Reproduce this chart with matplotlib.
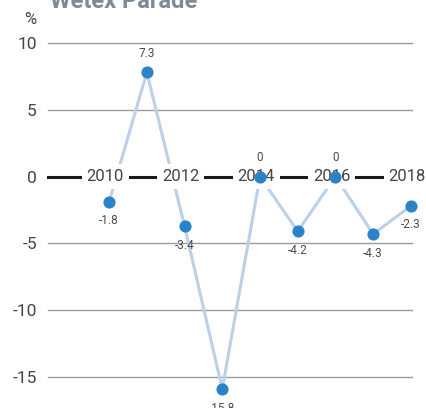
import numpy as np
import matplotlib.pyplot as plt

years = [2010, 2011, 2012, 2013, 2014, 2015, 2016, 2017, 2018]
values = [-1.9, 7.8, -3.7, -15.9, 0.0, -4.1, 0.0, -4.3, -2.2]
point_labels = ["-1.8", "7.3", "-3.4", "-15.8", "0", "-4.2", "0", "-4.3", "-2.3"]
label_above = [False, True, False, False, True, False, True, False, False]
year_ticks = [2010, 2012, 2014, 2016, 2018]
y_ticks = [10, 5, 0, -5, -10, -15]

plt.rcParams['font.family'] = ['Roboto', 'DejaVu Sans']

fig = plt.figure(figsize=(4.26, 4.08), dpi=100)
ax = fig.add_axes([48 / 426, 1 - 377 / 408, (412 - 48) / 426, (377 - 43) / 408])
ax.set_xlim(2008.38, 2018.03)
ax.set_ylim(-15, 10)

for t in y_ticks:
    if t == 0:
        ax.axhline(0, color='#1a1a1a', lw=2.2, zorder=1, clip_on=False)
    else:
        ax.axhline(t, color='#9a9a9a', lw=1, zorder=1, clip_on=False)

ax.plot(years, values, color='#bcd0ea', lw=2.2, zorder=2, clip_on=False)
ax.scatter(years, values, s=60, color='#2a83c8', zorder=3, clip_on=False)

for x, y, lab, up in zip(years, values, point_labels, label_above):
    if up:
        ax.annotate(lab, (x, y), xytext=(0, 9), textcoords='offset points',
                    ha='center', va='bottom', fontsize=8.5, color='#4a4a4a',
                    annotation_clip=False)
    else:
        ax.annotate(lab, (x, y), xytext=(0, -9), textcoords='offset points',
                    ha='center', va='top', fontsize=8.5, color='#4a4a4a',
                    annotation_clip=False)

for yr in year_ticks:
    ax.text(yr - 0.1, 0, str(yr), ha='center', va='center', fontsize=12, color='#444444',
            zorder=2.5, bbox=dict(facecolor='white', edgecolor='none', pad=3.5))

ax.set_yticks(y_ticks)
ax.set_yticklabels([str(t) for t in y_ticks], fontsize=12.5, color='#444444')
ax.tick_params(axis='y', length=0, pad=8)
ax.set_xticks([])
for s in ax.spines.values():
    s.set_visible(False)

fig.text(30 / 426, 1 - 20 / 408, "%", ha='center', va='center', fontsize=12, color='#444444')
fig.text(50 / 426, 1 - 2 / 408, "Wetex Parade", ha='left', va='center', fontsize=17,
         color='#7d8a99', fontweight='bold')

fig.savefig('out.png', dpi=100)
